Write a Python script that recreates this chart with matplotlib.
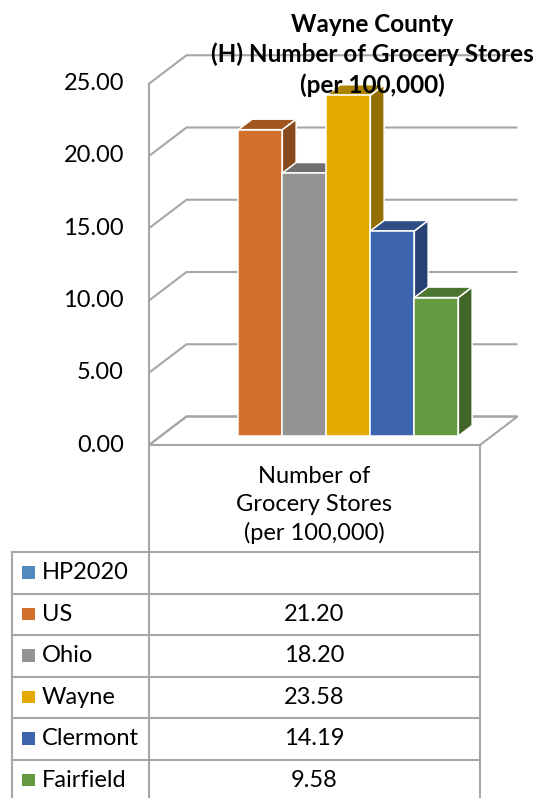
import numpy as np
import matplotlib

matplotlib.use("Agg")
import matplotlib.pyplot as plt
from matplotlib.patches import Polygon, Rectangle

plt.rcParams["font.family"] = ["Lato", "DejaVu Sans"]

# data
categories = ["HP2020", "US", "Ohio", "Wayne", "Clermont", "Fairfield"]
values = [np.nan, 21.20, 18.20, 23.58, 14.19, 9.58]
base_colors = ["#5B9BD5", "#ED7D31", "#A5A5A5", "#FFC000", "#4472C4", "#70AD47"]
y_ticks = [0, 5, 10, 15, 20, 25]
title = "Wayne County\n(H) Number of Grocery Stores\n(per 100,000)"
column_label = "Number of\nGrocery Stores\n(per 100,000)"

# layout (pixels of a 542x798 canvas)
W_PX, H_PX = 542, 798
X0_PX, Y0_PX = 149, 445          # front-left corner of the floor
BAR_PX, VAL_PX = 44.0, 14.45     # px per bar slot / per value unit
FLOOR_W = (480 - X0_PX) / BAR_PX
DX, DY = 37.5 / BAR_PX, 28.5 / VAL_PX
Z0, Z1 = 0.316, 0.684
GRID = "#A6A6A6"
FS = 17


def shade(c, f):
    r, g, b = matplotlib.colors.to_rgb(c)
    return (r * f, g * f, b * f)


def proj(x, y, z):
    return (x + z * DX, y + z * DY)


fig = plt.figure(figsize=(W_PX / 100, H_PX / 100), dpi=100)
ax = fig.add_axes([0, 0, 1, 1])
ax.set_xlim(-X0_PX / BAR_PX, (W_PX - X0_PX) / BAR_PX)
ax.set_ylim(-(H_PX - Y0_PX) / VAL_PX, Y0_PX / VAL_PX)
ax.axis("off")

# floor
floor = [proj(0, 0, 0), proj(FLOOR_W, 0, 0), proj(FLOOR_W, 0, 1), proj(0, 0, 1)]
ax.add_patch(Polygon(floor, closed=True, fc="white", ec=GRID, lw=1.5, zorder=1))

# walls / gridlines
for t in y_ticks:
    pts = np.array([proj(0, t, 0), proj(0, t, 1), proj(FLOOR_W, t, 1)])
    ax.plot(pts[:, 0], pts[:, 1], color=GRID, lw=1.5, zorder=1, solid_capstyle="butt")
    ax.text(-0.57, t, f"{t:.2f}", ha="right", va="center", fontsize=FS)
ax.plot([0, 0], [0, max(y_ticks)], color=GRID, lw=1.5, zorder=1)

# 3d bars
n = len(categories)
start = (FLOOR_W - n) / 2
for i, (v, c) in enumerate(zip(values, base_colors)):
    if np.isnan(v):
        continue
    xa, xb = start + i, start + i + 1
    side = [proj(xb, 0, Z0), proj(xb, 0, Z1), proj(xb, v, Z1), proj(xb, v, Z0)]
    top = [proj(xa, v, Z0), proj(xb, v, Z0), proj(xb, v, Z1), proj(xa, v, Z1)]
    front = [proj(xa, 0, Z0), proj(xb, 0, Z0), proj(xb, v, Z0), proj(xa, v, Z0)]
    for poly, f in ((side, 0.58), (top, 0.68), (front, 0.89)):
        ax.add_patch(Polygon(poly, closed=True, fc=shade(c, f), ec="white",
                             lw=1.1, joinstyle="miter", zorder=2 + i))

fig.text(372 / W_PX, 1 - 55 / H_PX, title, ha="center", va="center",
         fontsize=17.5, fontweight="bold", linespacing=1.34)

# data table
tab = fig.add_axes([0, 0, 1, 1], facecolor="none")
tab.set_xlim(0, W_PX)
tab.set_ylim(H_PX, 0)
tab.axis("off")
row_edges = [552, 593.5, 635, 676.5, 718, 759.5, 801]
tab.plot([12, 12], [row_edges[0], H_PX], color=GRID, lw=1.5)
tab.plot([X0_PX, X0_PX], [Y0_PX, H_PX], color=GRID, lw=1.5)
tab.plot([480, 480], [Y0_PX, H_PX], color=GRID, lw=1.5)
for e in row_edges[:-1]:
    tab.plot([12, 480], [e, e], color=GRID, lw=1.5)
tab.text(314.5, 505, column_label, ha="center", va="center", fontsize=FS,
         linespacing=1.38)
for i, (cat, v, c) in enumerate(zip(categories, values, base_colors)):
    yc = (row_edges[i] + row_edges[i + 1]) / 2
    tab.add_patch(Rectangle((22, yc - 6.5), 12.5, 12.5, fc=shade(c, 0.89), ec="none"))
    tab.text(42, yc, cat, ha="left", va="center", fontsize=FS)
    if not np.isnan(v):
        tab.text(314.5, yc, f"{v:.2f}", ha="center", va="center", fontsize=FS)

fig.savefig("out.png", dpi=100)
